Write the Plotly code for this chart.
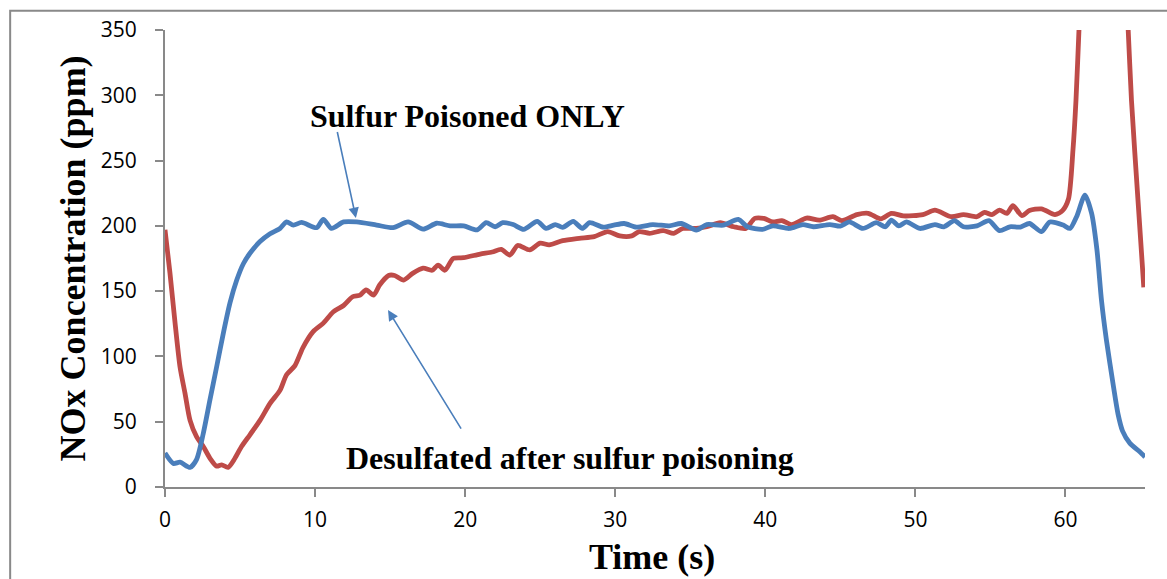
import plotly.graph_objects as go

# ---- data ----
blue_x = [0, 0.56, 1.0, 1.67, 2.1, 2.55, 3.0, 3.44, 3.89, 4.33, 4.78, 5.22, 5.66, 6.33, 7.0, 7.66,
          8.1, 8.55, 9.1, 10.1, 10.55, 11.1, 11.9, 12.77, 14.1, 15.2, 16.2, 17.2, 18.1, 19.0, 19.9,
          20.8, 21.4, 22.0, 22.5, 23.2, 23.9, 24.8, 25.4, 26.0, 26.5, 27.2, 27.8, 28.3, 29.2, 29.9,
          30.6, 31.4, 32.5, 33.6, 34.4, 35.4, 36.1, 37.2, 38.2, 38.8, 39.8, 40.5, 41.6, 42.5, 43.2,
          44.3, 45.0, 45.6, 46.5, 47.4, 48.0, 48.4, 48.9, 49.4, 50.3, 51.3, 51.9, 52.6, 53.2, 54.1,
          54.9, 55.6, 56.3, 57.0, 57.6, 58.4, 58.96, 59.85, 60.3, 60.74, 61.3, 61.74, 62.1, 62.4,
          62.73, 63.2, 63.5, 63.8, 64.3, 64.95, 65.3]
blue_y = [26, 18, 19, 15, 21, 41, 67, 92, 118, 141, 158.5, 171, 179, 188, 194, 198,
          203, 200.6, 202.6, 198.6, 205, 198, 203, 203, 200.6, 198.6, 203, 197.5, 202, 200, 200,
          197, 202.4, 199.3, 202.4, 201, 197.3, 203.4, 198, 201, 198.8, 203.4, 198, 202.4, 199, 200.5,
          201.8, 199, 201, 200, 201.8, 196.8, 201, 200.5, 205, 199.3, 197.3, 200, 198, 201, 199.3,
          201, 199.8, 203, 198, 202.4, 199.3, 204.4, 200, 203, 198, 201, 199.3, 204, 199.3, 200,
          204, 196.3, 199.3, 199, 201.8, 195.6, 203, 200.6, 198, 207, 223.6, 209.7, 181.4, 143,
          112.5, 76.8, 56, 43, 33.4, 27, 23]

red_x = [0, 0.33, 0.67, 1.0, 1.33, 1.67, 2.1, 2.55, 3.0, 3.44, 3.78, 4.2, 4.66, 5.1, 5.66, 6.33,
         7.0, 7.66, 8.1, 8.66, 9.2, 9.87, 10.55, 11.2, 11.9, 12.5, 13.0, 13.4, 13.9, 14.3, 14.9,
         15.3, 15.9, 16.5, 17.2, 17.8, 18.2, 18.65, 19.2, 19.9, 21.0, 21.8, 22.4, 22.98, 23.5, 24.3,
         25.0, 25.6, 26.5, 27.6, 28.6, 29.5, 30.3, 31.1, 31.6, 32.3, 33.2, 33.9, 34.5, 35.4, 36.1,
         37.0, 37.9, 38.7, 39.3, 39.9, 40.5, 41.1, 41.75, 42.75, 43.6, 44.5, 45.1, 46.1, 46.85,
         47.7, 48.4, 49.2, 50.5, 51.3, 52.4, 53.2, 54.1, 54.6, 55.1, 55.6, 56.1, 56.5, 57.1, 57.6,
         58.4, 59.3, 59.8, 60.2, 60.5, 60.7, 60.9, 61.5, 62.2, 63.0, 63.7, 64.18, 64.4, 64.83, 65.22]
red_y = [197, 164, 125.6, 92, 72, 51, 38.5, 31, 22, 16, 17, 15, 22, 31, 40, 51,
         64, 74, 86, 93, 107, 119, 125.5, 134, 139, 145.7, 147, 151, 147, 154.7, 162,
         162, 158.5, 163.6, 167.6, 166, 170, 166, 175, 175.6, 178.4, 180, 182, 177.6, 185, 181.6,
         186.7, 185.4, 188.7, 190.5, 191.8, 195.6, 192.3, 192.3, 195.6, 194.3, 196.4, 194.3, 198, 198, 199.3,
         202.4, 199.3, 198, 205.7, 205.7, 203, 204, 201, 206, 204.4, 207, 204, 208.6, 209.6,
         205.4, 209.6, 207.6, 208.6, 212, 207, 208.6, 207, 210.4, 208.6, 212, 209.6, 215.5, 207.8, 211.7,
         213, 208.6, 211.7, 220.6, 258, 296, 350, 520, 660, 600, 460, 350, 296, 220, 153]

x_ticks = [0, 10, 20, 30, 40, 50, 60]
y_ticks = [0, 50, 100, 150, 200, 250, 300, 350]

label_sulfur = "Sulfur Poisoned ONLY"
label_desulf = "Desulfated after sulfur poisoning"

BLUE = "#4A7EBB"
RED = "#BE4B48"
AXIS = "#898989"
SERIF = "Liberation Serif, Times New Roman, serif"
SANS = "Open Sans, Lato, sans-serif"

fig = go.Figure()
fig.add_trace(go.Scatter(x=red_x, y=red_y, mode="lines",
                         line=dict(color=RED, width=4.8, shape="spline", smoothing=0.7),
                         showlegend=False, hoverinfo="skip"))
fig.add_trace(go.Scatter(x=blue_x, y=blue_y, mode="lines",
                         line=dict(color=BLUE, width=4.8, shape="spline", smoothing=0.7),
                         showlegend=False, hoverinfo="skip"))

fig.update_layout(
    width=1167, height=579,
    margin=dict(l=165, r=22, t=30, b=92),
    paper_bgcolor="white", plot_bgcolor="white",
    xaxis=dict(range=[0, 65.3], tickvals=x_ticks, showgrid=False, zeroline=False,
               showline=True, linecolor=AXIS, linewidth=2,
               ticks="outside", ticklen=8, tickwidth=2, tickcolor=AXIS,
               tickfont=dict(family=SANS, size=21, color="black"), ticklabelstandoff=5),
    yaxis=dict(range=[0, 350], tickvals=y_ticks, showgrid=False, zeroline=False,
               showline=True, linecolor=AXIS, linewidth=2,
               ticks="outside", ticklen=8, tickwidth=2, tickcolor=AXIS,
               tickfont=dict(family=SANS, size=21, color="black"), ticklabelstandoff=14),
    annotations=[
        dict(text="<b>NOx Concentration (ppm)</b>", xref="paper", yref="paper",
             x=-0.094, y=0.5, textangle=-90, showarrow=False, xanchor="center", yanchor="middle",
             font=dict(family=SERIF, size=36, color="black")),
        dict(text="<b>Time (s)</b>", xref="paper", yref="paper",
             x=0.497, y=-0.153, showarrow=False, xanchor="center", yanchor="middle",
             font=dict(family=SERIF, size=36, color="black")),
        dict(text="<b>" + label_sulfur + "</b>", xref="x", yref="y", x=20.15, y=284,
             showarrow=False, xanchor="center", yanchor="middle",
             font=dict(family=SERIF, size=32, color="black")),
        dict(text="<b>" + label_desulf + "</b>", xref="x", yref="y", x=26.98, y=22,
             showarrow=False, xanchor="center", yanchor="middle",
             font=dict(family=SERIF, size=32, color="black")),
        dict(text="", xref="x", yref="y", x=12.72, y=206, axref="x", ayref="y", ax=11.46, ay=273,
             showarrow=True, arrowhead=2, arrowsize=1.3, arrowwidth=1.6, arrowcolor=BLUE, standoff=0),
        dict(text="", xref="x", yref="y", x=14.86, y=135.5, axref="x", ayref="y", ax=19.79, ay=43.6,
             showarrow=True, arrowhead=2, arrowsize=1.3, arrowwidth=1.6, arrowcolor=BLUE, standoff=0),
    ],
    shapes=[dict(type="rect", xref="paper", yref="paper", x0=-0.158, x1=1.05, y0=-0.3, y1=1.042,
                 line=dict(color=AXIS, width=2), fillcolor="rgba(0,0,0,0)", layer="below")],
)

fig.write_html("out.html")
